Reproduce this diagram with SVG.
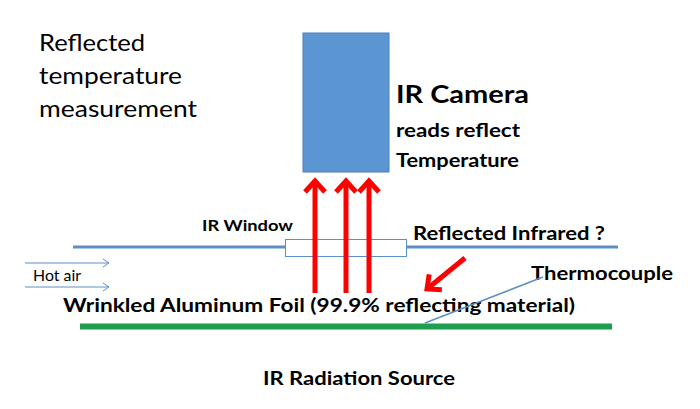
<svg xmlns="http://www.w3.org/2000/svg" width="700" height="409" viewBox="0 0 700 409">
<style>
.t{font-family:Lato,"Open Sans","Liberation Sans",sans-serif;fill:#000}
.b{font-weight:bold}
.red{stroke:#ff0000;stroke-width:5;fill:none}
.blue{stroke:#5b8fc9;fill:none}
</style>
<defs>
<marker id="rh" markerUnits="userSpaceOnUse" viewBox="-14 -13 18 26" markerWidth="18" markerHeight="26" refX="0" refY="0" orient="auto" overflow="visible">
<path d="M-11,-10 L0,0 L-11,10" fill="none" stroke="#ff0000" stroke-width="5" stroke-linejoin="miter"/>
</marker>
<marker id="bh" markerUnits="userSpaceOnUse" viewBox="-8 -5 10 10" markerWidth="10" markerHeight="10" refX="0" refY="0" orient="auto" overflow="visible">
<path d="M-6,-4 L0,0 L-6,4" fill="none" stroke="#5b8fc9" stroke-width="1"/>
</marker>
</defs>
<rect width="700" height="409" fill="#ffffff"/>
<g id="title">
<text class="t" font-size="22.5" x="39" y="51" textLength="106" lengthAdjust="spacingAndGlyphs">Reflected</text>
<text class="t" font-size="22.5" x="39" y="84" textLength="143" lengthAdjust="spacingAndGlyphs">temperature</text>
<text class="t" font-size="22.5" x="39" y="117" textLength="158" lengthAdjust="spacingAndGlyphs">measurement</text>
</g>
<g id="camera">
<rect x="303" y="33" width="86" height="139" fill="#5b96d3" stroke="#4a80bb" stroke-width="1"/>
<text class="t b" font-size="25" x="396" y="103" textLength="133" lengthAdjust="spacingAndGlyphs">IR Camera</text>
<text class="t b" font-size="18" x="396" y="137" textLength="124" lengthAdjust="spacingAndGlyphs">reads reflect</text>
<text class="t b" font-size="18" x="396" y="167" textLength="123" lengthAdjust="spacingAndGlyphs">Temperature</text>
</g>
<g id="window">
<line class="blue" x1="73" y1="247" x2="285" y2="247" stroke-width="3"/>
<line class="blue" x1="407" y1="247" x2="618" y2="247" stroke-width="3"/>
<rect x="285.5" y="239.5" width="121" height="17" fill="#ffffff" stroke="#5b8fc9" stroke-width="1"/>
<text class="t b" font-size="16" x="202" y="231" textLength="91" lengthAdjust="spacingAndGlyphs">IR Window</text>
</g>
<g id="foil">
<line x1="80" y1="326.5" x2="612" y2="326.5" stroke="#1e9e4f" stroke-width="6"/>
<text class="t b" font-size="19.5" x="63" y="312" textLength="512" lengthAdjust="spacingAndGlyphs">Wrinkled Aluminum Foil (99.9% reflecting material)</text>
</g>
<g id="hotair">
<text class="t" font-size="15" x="33" y="281" textLength="48" lengthAdjust="spacingAndGlyphs">Hot air</text>
</g>
<g id="labels">
<text class="t b" font-size="19" x="413" y="240" textLength="192" lengthAdjust="spacingAndGlyphs">Reflected Infrared ?</text>
<text class="t b" font-size="19" x="531" y="280" textLength="142" lengthAdjust="spacingAndGlyphs">Thermocouple</text>
<text class="t b" font-size="18.5" x="263" y="385" textLength="192" lengthAdjust="spacingAndGlyphs">IR Radiation Source</text>
</g>
<g id="connectors">
<line class="red" x1="315" y1="293" x2="315" y2="181" marker-end="url(#rh)"/>
<line class="red" x1="346" y1="293" x2="346" y2="181" marker-end="url(#rh)"/>
<line class="red" x1="369" y1="293" x2="369" y2="181" marker-end="url(#rh)"/>
<line class="red" x1="465" y1="258" x2="427" y2="289" marker-end="url(#rh)"/>
<line class="blue" x1="25" y1="263" x2="109" y2="263" stroke-width="1" marker-end="url(#bh)"/>
<line class="blue" x1="25" y1="287" x2="109" y2="287" stroke-width="1" marker-end="url(#bh)"/>
<line class="blue" x1="543" y1="277" x2="425" y2="323" stroke-width="1.5"/>
</g>
</svg>
